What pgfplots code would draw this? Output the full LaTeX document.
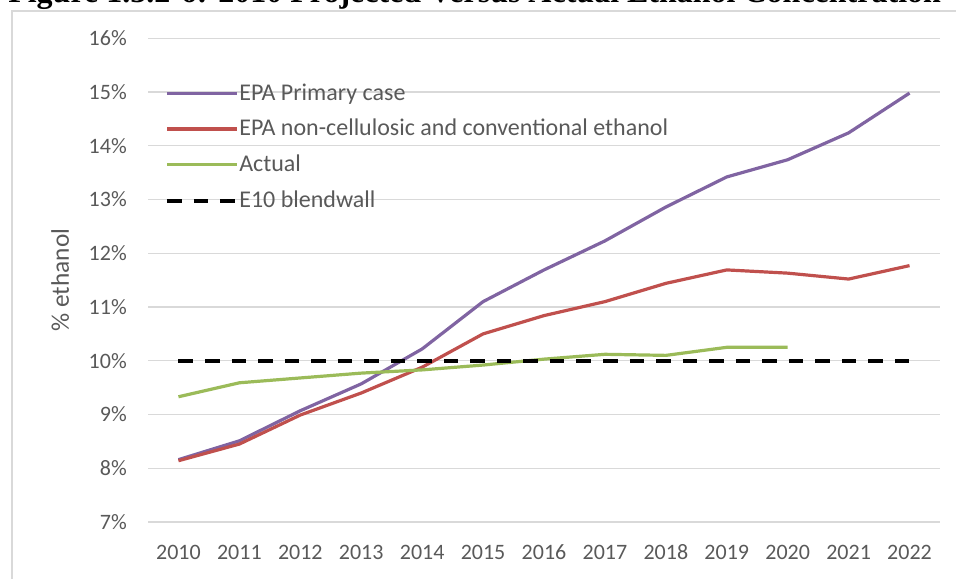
\documentclass[border=0pt]{standalone}
\usepackage{pgfplots}
\pgfplotsset{compat=1.18}
\usepackage{fontspec}
\setmainfont{Carlito}
\newfontfamily\titlefont{Liberation Serif}
\definecolor{epapurple}{HTML}{8064A2}
\definecolor{epared}{HTML}{C0504D}
\definecolor{actgreen}{HTML}{9BBB59}
\definecolor{gridgray}{HTML}{D9D9D9}
\definecolor{textgray}{HTML}{595959}
\begin{document}
\begin{tikzpicture}
\useasboundingbox (0pt,0pt) rectangle (717pt,433.5pt);
\begin{scope}[x=0.75pt,y=0.75pt]
\draw[gridgray, line width=1pt] (12,-5) -- (12,567) -- (960,567);
\node[anchor=base west, font=\titlefont\bfseries\fontsize{24}{28}\selectfont, inner sep=0pt] at (8,575) {Figure 1.3.2-6: 2010 Projected Versus Actual Ethanol Concentration};
\end{scope}
\begin{axis}[
  at={(111pt,42pt)}, anchor=south west,
  scale only axis, width=594pt, height=362.8pt,
  xmin=2009.5, xmax=2022.5, ymin=7, ymax=16,
  xtick={2010,2011,2012,2013,2014,2015,2016,2017,2018,2019,2020,2021,2022},
  xticklabels={2010,2011,2012,2013,2014,2015,2016,2017,2018,2019,2020,2021,2022},
  ytick={7,8,9,10,11,12,13,14,15,16},
  yticklabels={7\%,8\%,9\%,10\%,11\%,12\%,13\%,14\%,15\%,16\%},
  axis line style={draw=none},
  major tick length=0pt,
  ymajorgrids,
  grid style={gridgray, line width=0.9pt},
  ticklabel style={font=\fontsize{16.5}{19}\selectfont, text=textgray},
  yticklabel style={inner sep=0pt, xshift=-15.75pt},
  xticklabel style={inner sep=0pt, yshift=-17pt},
  ylabel={\% ethanol},
  ylabel style={font=\fontsize{19}{22}\selectfont, text=textgray, at={(axis description cs:-0.111,0.5)}, anchor=center},
  legend style={at={(rel axis cs:0.0215,0.9115)}, anchor=north west, draw=none, fill=none,
    font=\fontsize{18}{21}\selectfont, text=textgray, inner sep=0pt, row sep=8.8pt,
    nodes={inner sep=0pt, text height=14pt, text depth=4pt}},
  legend cell align=left,
  legend image code/.code={\draw[#1] (0pt,0pt) -- (52.5pt,0pt);},
  every axis plot/.append style={line join=round},
]
\addplot[epapurple, line width=2.4pt] coordinates {
(2010,8.16) (2011,8.51) (2012,9.07) (2013,9.57) (2014,10.22) (2015,11.10)
(2016,11.69) (2017,12.23) (2018,12.86) (2019,13.42) (2020,13.74) (2021,14.24) (2022,14.98)};
\addlegendentry{EPA Primary case}
\addplot[epared, line width=2.4pt] coordinates {
(2010,8.14) (2011,8.45) (2012,8.99) (2013,9.40) (2014,9.88) (2015,10.50)
(2016,10.84) (2017,11.10) (2018,11.44) (2019,11.69) (2020,11.63) (2021,11.52) (2022,11.77)};
\addlegendentry{EPA non-cellulosic and conventional ethanol}
\addplot[actgreen, line width=2.4pt] coordinates {
(2010,9.33) (2011,9.59) (2012,9.68) (2013,9.77) (2014,9.83) (2015,9.92)
(2016,10.03) (2017,10.12) (2018,10.10) (2019,10.25) (2020,10.25)};
\addlegendentry{Actual}
\addplot[black, line width=3pt, dash pattern=on 10.9pt off 9pt] coordinates {(2010,10) (2022,10)};
\addlegendentry{E10 blendwall}
\end{axis}
\end{tikzpicture}
\end{document}
